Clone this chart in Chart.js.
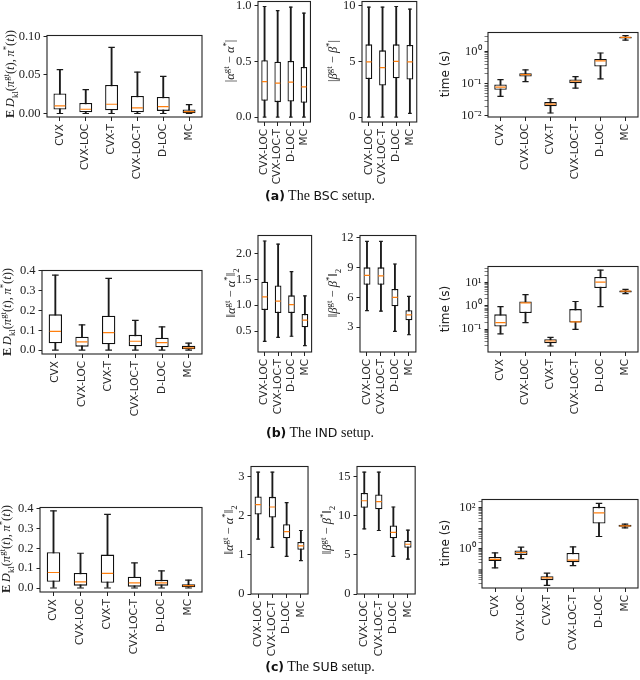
<!DOCTYPE html>
<html>
<head>
<meta charset="utf-8">
<script src="https://cdn.jsdelivr.net/npm/chart.js@4.4.1/dist/chart.umd.min.js"></script>
<style>
  html, body { margin: 0; padding: 0; background: #fff; }
  #page { position: relative; width: 640px; height: 680px; overflow: hidden; }
  canvas { position: absolute; }
  .ylab { position: absolute; width: 160px; height: 16px; line-height: 16px; text-align: center; white-space: nowrap;
          font-family: 'Liberation Serif', serif; font-size: 12.5px; color: #222; transform: rotate(-90deg); }
  .ylab sub, .ylab sup { font-size: 70%; line-height: 0; }
  .ylab.sans { font-family: 'DejaVu Sans', sans-serif; font-size: 12px; }
  .cap { position: absolute; left: 0; width: 640px; text-align: center; font-family: 'Liberation Serif', serif;
         font-size: 14px; color: #111; line-height: 16px; }
  .cap .sf { font-family: 'DejaVu Sans', sans-serif; font-size: 12.5px; }
</style>
</head>
<body>
<div id="page"></div>
<script>
const methods = ['CVX', 'CVX-LOC', 'CVX-T', 'CVX-LOC-T', 'D-LOC', 'MC']
const locMethods = ['CVX-LOC', 'CVX-LOC-T', 'D-LOC', 'MC']

// (a) BSC setup
const bscKlLo  = [0, 0, 0, 0, 0, 0]
const bscKlQ1  = [0.0052, 0.0017, 0.0043, 0.0017, 0.0034, 0.0005]
const bscKlMed = [0.0098, 0.0055, 0.012, 0.0072, 0.009, 0.0025]
const bscKlQ3  = [0.026, 0.0137, 0.037, 0.0227, 0.0214, 0.0052]
const bscKlHi  = [0.0567, 0.031, 0.0855, 0.0536, 0.048, 0.0116]

const bscAlphaLo  = [0, 0, 0, 0]
const bscAlphaQ1  = [0.146, 0.134, 0.14, 0.128]
const bscAlphaMed = [0.318, 0.304, 0.3125, 0.271]
const bscAlphaQ3  = [0.509, 0.497, 0.503, 0.449]
const bscAlphaHi  = [0.991, 0.955, 0.985, 0.932]

const bscBetaLo  = [0, 0, 0, 0.33]
const bscBetaQ1  = [3.42, 2.83, 3.48, 3.36]
const bscBetaMed = [4.94, 4.43, 5.0, 4.94]
const bscBetaQ3  = [6.52, 5.98, 6.52, 6.46]
const bscBetaHi  = [9.85, 9.85, 9.91, 9.67]

const bscTimeLo  = [0.040, 0.115, 0.0121, 0.072, 0.139, 2.24]
const bscTimeQ1  = [0.064, 0.165, 0.0195, 0.102, 0.34, 2.52]
const bscTimeMed = [0.077, 0.19, 0.023, 0.118, 0.51, 2.71]
const bscTimeQ3  = [0.093, 0.209, 0.0265, 0.133, 0.58, 2.84]
const bscTimeHi  = [0.133, 0.265, 0.0336, 0.165, 0.89, 3.1]

// (b) IND setup
const indKlLo  = [0, 0, 0, 0, 0, 0]
const indKlQ1  = [0.035, 0.018, 0.03, 0.02, 0.015, 0.005]
const indKlMed = [0.095, 0.042, 0.088, 0.045, 0.038, 0.012]
const indKlQ3  = [0.18, 0.068, 0.173, 0.077, 0.063, 0.022]
const indKlHi  = [0.377, 0.127, 0.36, 0.15, 0.117, 0.036]

const indAlphaLo  = [0.3, 0.38, 0.4, 0.22]
const indAlphaQ1  = [0.905, 0.85, 0.85, 0.575]
const indAlphaMed = [1.16, 1.08, 1.01, 0.71]
const indAlphaQ3  = [1.455, 1.38, 1.19, 0.83]
const indAlphaHi  = [2.24, 2.18, 1.65, 1.18]

const indBetaLo  = [4.65, 4.6, 2.57, 2.23]
const indBetaQ1  = [7.25, 7.25, 5.09, 3.69]
const indBetaMed = [8.2, 8.15, 5.99, 4.23]
const indBetaQ3  = [9.0, 9.0, 6.82, 4.69]
const indBetaHi  = [11.6, 11.6, 9.34, 6.09]

const indTimeLo  = [0.063, 0.19, 0.019, 0.098, 0.91, 3.3]
const indTimeQ1  = [0.13, 0.49, 0.025, 0.19, 5.7, 3.74]
const indTimeMed = [0.19, 1.34, 0.031, 0.206, 10.2, 4.26]
const indTimeQ3  = [0.43, 1.52, 0.037, 0.72, 17, 4.5]
const indTimeHi  = [0.91, 3.0, 0.044, 1.52, 33.4, 5.0]

// (c) SUB setup
const subKlLo  = [0, 0, 0, 0, 0, 0]
const subKlQ1  = [0.031, 0.012, 0.026, 0.007, 0.012, 0.0035]
const subKlMed = [0.078, 0.031, 0.074, 0.026, 0.026, 0.012]
const subKlQ3  = [0.18, 0.076, 0.168, 0.057, 0.041, 0.019]
const subKlHi  = [0.388, 0.175, 0.37, 0.126, 0.086, 0.04]

const subAlphaLo  = [1.4, 1.19, 0.96, 0.85]
const subAlphaQ1  = [2.03, 1.95, 1.42, 1.13]
const subAlphaMed = [2.28, 2.22, 1.59, 1.23]
const subAlphaQ3  = [2.49, 2.48, 1.78, 1.33]
const subAlphaHi  = [3.11, 3.11, 2.33, 1.62]

const subBetaLo  = [8.3, 8.1, 4.8, 4.45]
const subBetaQ1  = [11.0, 10.8, 7.1, 5.9]
const subBetaMed = [11.9, 11.8, 7.87, 6.35]
const subBetaQ3  = [12.9, 12.7, 8.75, 6.8]
const subBetaHi  = [15.55, 15.55, 11.1, 8.16]

const subTimeLo  = [0.114, 0.325, 0.016, 0.148, 3.85, 10.2]
const subTimeQ1  = [0.25, 0.49, 0.029, 0.215, 16.6, 11.4]
const subTimeMed = [0.30, 0.64, 0.037, 0.27, 55, 12.7]
const subTimeQ3  = [0.39, 0.8, 0.045, 0.61, 107, 14.3]
const subTimeHi  = [0.61, 1.16, 0.063, 1.2, 158, 15.4]

// tick values and labels
const bscKlTicks = [0, 0.05, 0.1],      bscKlTickLabels = ['0.00', '0.05', '0.10']
const bscAlphaTicks = [0, 0.5, 1],      bscAlphaTickLabels = ['0.0', '0.5', '1.0']
const bscBetaTicks = [0, 5, 10],        bscBetaTickLabels = ['0', '5', '10']
const bscTimeTicks = [0.01, 0.1, 1],    bscTimeTickLabels = ['10⁻²', '10⁻¹', '10⁰']
const indKlTicks = [0, 0.1, 0.2, 0.3, 0.4], indKlTickLabels = ['0.0', '0.1', '0.2', '0.3', '0.4']
const indAlphaTicks = [0.5, 1, 1.5, 2], indAlphaTickLabels = ['0.5', '1.0', '1.5', '2.0']
const indBetaTicks = [3, 6, 9, 12],     indBetaTickLabels = ['3', '6', '9', '12']
const indTimeTicks = [0.1, 1, 10],      indTimeTickLabels = ['10⁻¹', '10⁰', '10¹']
const subKlTicks = [0, 0.1, 0.2, 0.3, 0.4], subKlTickLabels = ['0.0', '0.1', '0.2', '0.3', '0.4']
const subAlphaTicks = [0, 1, 2, 3],     subAlphaTickLabels = ['0', '1', '2', '3']
const subBetaTicks = [0, 5, 10, 15],    subBetaTickLabels = ['0', '5', '10', '15']
const subTimeTicks = [1, 100],          subTimeTickLabels = ['10⁰', '10²']

const YW = 50, XH = 80, PT = 10, PR = 4
const page = document.getElementById('page')

const framePlugin = {
    id: 'frame',
    afterDraw(chart) {
        const { ctx, chartArea: a } = chart
        ctx.save()
        ctx.strokeStyle = '#222'
        ctx.lineWidth = 1.1
        ctx.strokeRect(a.left, a.top, a.right - a.left, a.bottom - a.top)
        ctx.restore()
    }
}

function minorTicks(min, max, majors) {
    const out = []
    for (let d = Math.floor(Math.log10(min)); d <= Math.ceil(Math.log10(max)); d++) {
        for (let k = 1; k <= 9; k++) {
            const v = k * Math.pow(10, d)
            if (v < min || v > max) continue
            if (majors.some(m => Math.abs(Math.log10(m) - Math.log10(v)) < 1e-6)) continue
            out.push(v)
        }
    }
    return out
}

function boxPanel(rect, labels, lo, q1, med, q3, hi, y) {
    const [x0, y0, x1, y1] = rect
    const canvas = document.createElement('canvas')
    canvas.width = x1 - x0 + YW + PR
    canvas.height = y1 - y0 + PT + XH
    canvas.style.left = (x0 - YW) + 'px'
    canvas.style.top = (y0 - PT) + 'px'
    page.appendChild(canvas)

    const boxW = (x1 - x0) / labels.length * 0.5
    const isMajor = v => y.ticks.findIndex(m => y.log
        ? Math.abs(Math.log10(m) - Math.log10(v)) < 1e-6
        : Math.abs(m - v) < 1e-9)
    const allTicks = y.log ? y.ticks.concat(minorTicks(y.min, y.max, y.ticks)) : y.ticks

    const pointSet = (data, color, r, order) => ({
        type: 'line', data, showLine: false, order,
        pointStyle: 'line', pointRadius: r, pointHoverRadius: r,
        pointBorderColor: color, pointBorderWidth: 1.2, borderColor: color
    })

    new Chart(canvas, {
        type: 'bar',
        data: {
            labels: labels,
            datasets: [
                { data: labels.map((_, i) => [lo[i], hi[i]]), grouped: false, barThickness: 1.2,
                  backgroundColor: '#1a1a1a', borderWidth: 0, order: 3 },
                { data: labels.map((_, i) => [q1[i], q3[i]]), grouped: false, categoryPercentage: 1, barPercentage: 0.5,
                  backgroundColor: '#fff', borderColor: '#111', borderWidth: 1.3, borderSkipped: false, order: 2 },
                pointSet(lo, '#1a1a1a', boxW / 4, 1),
                pointSet(hi, '#1a1a1a', boxW / 4, 1),
                pointSet(med, '#ff7f0e', boxW / 2 - 1, 0)
            ]
        },
        options: {
            responsive: false,
            animation: false,
            events: [],
            layout: { autoPadding: false, padding: { left: 0, top: PT, right: PR, bottom: 0 } },
            plugins: { legend: { display: false }, tooltip: { enabled: false } },
            scales: {
                x: {
                    offset: true,
                    grid: { offset: false, drawOnChartArea: false, tickLength: 4, color: '#222', tickColor: '#222' },
                    border: { display: false },
                    ticks: { autoSkip: false, minRotation: 90, maxRotation: 90, padding: 3, color: '#2a2a2a',
                             font: { family: 'DejaVu Sans', size: 10.5 } },
                    afterFit: s => { s.height = XH }
                },
                y: {
                    type: y.log ? 'logarithmic' : 'linear',
                    min: y.min,
                    max: y.max,
                    grid: { drawOnChartArea: false, tickLength: 3.5, color: '#222', tickColor: '#222',
                            tickWidth: c => (c.tick && isMajor(c.tick.value) < 0) ? 0.6 : 1 },
                    border: { display: false },
                    ticks: {
                        autoSkip: false, padding: 3, color: '#222',
                        font: { family: 'Liberation Serif', size: 12.5 },
                        callback: v => { const i = isMajor(v); return i < 0 ? '' : y.labels[i] }
                    },
                    afterBuildTicks: s => { s.ticks = allTicks.map(v => ({ value: v })) },
                    afterFit: s => { s.width = YW }
                }
            }
        },
        plugins: [framePlugin]
    })
}

function yTitle(html, cx, cy, sans) {
    const d = document.createElement('div')
    d.className = 'ylab' + (sans ? ' sans' : '')
    d.innerHTML = html
    d.style.left = (cx - 80) + 'px'
    d.style.top = (cy - 8) + 'px'
    page.appendChild(d)
}

function caption(letter, name, cy) {
    const d = document.createElement('div')
    d.className = 'cap'
    d.innerHTML = '<b class="sf">(' + letter + ')</b> The <span class="sf">' + name + '</span> setup.'
    d.style.top = (cy - 8) + 'px'
    page.appendChild(d)
}

const klTitle = '<b>E</b>&thinsp;<i>D</i><sub>kl</sub>(<i>π</i><sup>gt</sup>(<i>t</i>),&thinsp;<i>π</i><sup>*</sup>(<i>t</i>))'
const absAlpha = '|<i>α</i><sup>gt</sup> − <i>α</i><sup>*</sup>|'
const absBeta = '|<i>β</i><sup>gt</sup> − <i>β</i><sup>*</sup>|'
const normAlpha = '‖<i>α</i><sup>gt</sup> − <i>α</i><sup>*</sup>‖<sub>2</sub>'
const normBeta = '‖<i>β</i><sup>gt</sup> − <i>β</i><sup>*</sup>‖<sub>2</sub>'

// row (a)
boxPanel([47, 35, 202, 117], methods, bscKlLo, bscKlQ1, bscKlMed, bscKlQ3, bscKlHi,
    { min: -0.0045, max: 0.101, ticks: bscKlTicks, labels: bscKlTickLabels })
boxPanel([258, 1, 316, 122], locMethods, bscAlphaLo, bscAlphaQ1, bscAlphaMed, bscAlphaQ3, bscAlphaHi,
    { min: -0.044, max: 1.036, ticks: bscAlphaTicks, labels: bscAlphaTickLabels })
boxPanel([362, 1, 422, 122], locMethods, bscBetaLo, bscBetaQ1, bscBetaMed, bscBetaQ3, bscBetaHi,
    { min: -0.44, max: 10.36, ticks: bscBetaTicks, labels: bscBetaTickLabels })
boxPanel([488, 32, 638, 117], methods, bscTimeLo, bscTimeQ1, bscTimeMed, bscTimeQ3, bscTimeHi,
    { log: true, min: 0.0091, max: 3.87, ticks: bscTimeTicks, labels: bscTimeTickLabels })
yTitle(klTitle, 10, 74)
yTitle(absAlpha, 230, 61)
yTitle(absBeta, 333, 61)
yTitle('time (s)', 445, 74, true)
caption('a', 'BSC', 196)

// row (b)
boxPanel([42, 270, 202, 354], methods, indKlLo, indKlQ1, indKlMed, indKlQ3, indKlHi,
    { min: -0.019, max: 0.4, ticks: indKlTicks, labels: indKlTickLabels })
boxPanel([258, 235, 317, 352], locMethods, indAlphaLo, indAlphaQ1, indAlphaMed, indAlphaQ3, indAlphaHi,
    { min: 0.096, max: 2.346, ticks: indAlphaTicks, labels: indAlphaTickLabels })
boxPanel([360, 235, 421, 352], locMethods, indBetaLo, indBetaQ1, indBetaMed, indBetaQ3, indBetaHi,
    { min: 0.5, max: 12.2, ticks: indBetaTicks, labels: indBetaTickLabels })
boxPanel([488, 266, 638, 352], methods, indTimeLo, indTimeQ1, indTimeMed, indTimeQ3, indTimeHi,
    { log: true, min: 0.0105, max: 47.9, ticks: indTimeTicks, labels: indTimeTickLabels })
yTitle(klTitle, 7, 312)
yTitle(normAlpha, 231, 293)
yTitle(normBeta, 333, 293)
yTitle('time (s)', 445, 309, true)
caption('b', 'IND', 433)

// row (c)
boxPanel([40, 507, 202, 592], methods, subKlLo, subKlQ1, subKlMed, subKlQ3, subKlHi,
    { min: -0.02, max: 0.405, ticks: subKlTicks, labels: subKlTickLabels })
boxPanel([251, 466, 313, 594], locMethods, subAlphaLo, subAlphaQ1, subAlphaMed, subAlphaQ3, subAlphaHi,
    { min: 0, max: 3.254, ticks: subAlphaTicks, labels: subAlphaTickLabels })
boxPanel([357, 466, 420, 594], locMethods, subBetaLo, subBetaQ1, subBetaMed, subBetaQ3, subBetaHi,
    { min: 0, max: 16.27, ticks: subBetaTicks, labels: subBetaTickLabels })
boxPanel([482, 499, 638, 588], methods, subTimeLo, subTimeQ1, subTimeMed, subTimeQ3, subTimeHi,
    { log: true, min: 0.012, max: 244, ticks: subTimeTicks, labels: subTimeTickLabels })
yTitle(klTitle, 6, 549)
yTitle(normAlpha, 229, 530)
yTitle(normBeta, 327, 530)
yTitle('time (s)', 445, 543, true)
caption('c', 'SUB', 667)
</script>
</body>
</html>
